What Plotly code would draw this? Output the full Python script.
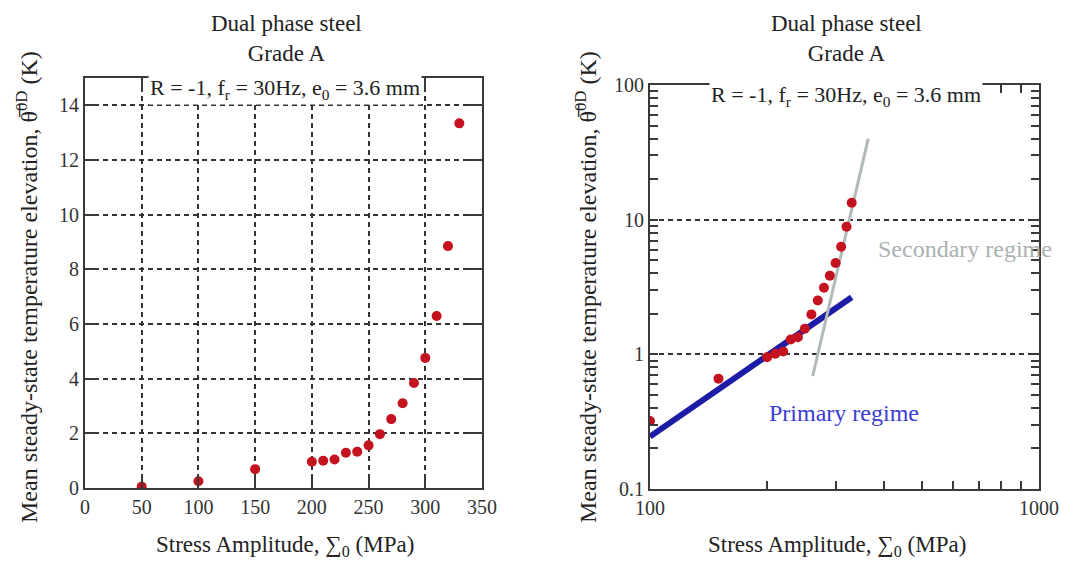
import plotly.graph_objects as go

# ---- data ----
stress_lin = [50, 100, 150, 200, 210, 220, 230, 240, 250, 260, 270, 280, 290, 300, 310, 320, 330]
temp_lin = [0.05, 0.25, 0.69, 0.96, 1.0, 1.04, 1.29, 1.33, 1.56, 1.97, 2.52, 3.1, 3.84, 4.76, 6.29, 8.85, 13.34]

stress_log = [100, 150, 200, 210, 220, 230, 240, 250, 260, 270, 280, 290, 300, 310, 320, 330]
temp_log = [0.32, 0.66, 0.95, 1.01, 1.05, 1.29, 1.34, 1.55, 1.98, 2.51, 3.12, 3.84, 4.76, 6.29, 8.85, 13.34]

primary_x = [100, 330]
primary_y = [0.245, 2.65]
secondary_x = [262, 364]
secondary_y = [0.69, 40]

x_ticks_lin = [0, 50, 100, 150, 200, 250, 300, 350]
y_ticks_lin = [0, 2, 4, 6, 8, 10, 12, 14]
x_ticks_log = [100, 1000]
y_ticks_log = [0.1, 1, 10, 100]

title_text = "Dual phase steel<br>Grade A"
cond_text = "R = -1, f<sub>r</sub> = 30Hz, e<sub>0</sub> = 3.6 mm"
xtitle = "Stress Amplitude, ∑<sub>0</sub> (MPa)"
ytitle = "Mean steady-state temperature elevation, θ\u0305<sup>0D</sup> (K)"

W, H = 1086, 562
FONT = "Liberation Serif"
AX = "#3a3a3a"
RED = "#c4121e"

def px(x):
    return x / W

def py(y):
    return 1 - y / H

fig = go.Figure()

fig.add_trace(go.Scatter(x=stress_lin, y=temp_lin, mode="markers",
                         marker=dict(color=RED, size=10), xaxis="x", yaxis="y",
                         showlegend=False))

fig.add_trace(go.Scatter(x=primary_x, y=primary_y, mode="lines",
                         line=dict(color="#1c1ca6", width=6), xaxis="x2", yaxis="y2",
                         showlegend=False))
fig.add_trace(go.Scatter(x=secondary_x, y=secondary_y, mode="lines",
                         line=dict(color="#b2b9b9", width=3), xaxis="x2", yaxis="y2",
                         showlegend=False))
fig.add_trace(go.Scatter(x=stress_log, y=temp_log, mode="markers",
                         marker=dict(color=RED, size=10), xaxis="x2", yaxis="y2",
                         showlegend=False))

TICKFONT = dict(family=FONT, size=20, color="#333")

common_lin = dict(showline=True, linecolor=AX, linewidth=2, mirror="allticks",
                  ticks="inside", ticklen=14, tickwidth=2, tickcolor=AX,
                  showgrid=True, gridcolor="#333333", gridwidth=1.5, griddash="5px,4px",
                  zeroline=False, automargin=False, tickfont=TICKFONT)

fig.update_layout(
    width=W, height=H,
    margin=dict(l=0, r=0, t=0, b=0),
    plot_bgcolor="white", paper_bgcolor="white",
    font=dict(family=FONT, color="#222"),
    xaxis=dict(domain=[px(85), px(482)], range=[0, 350], tickvals=x_ticks_lin,
               anchor="y", **common_lin),
    yaxis=dict(domain=[py(488), py(78)], range=[0, 15], tickvals=y_ticks_lin,
               anchor="x", **common_lin),
    xaxis2=dict(domain=[px(650), px(1039)], type="log", range=[2, 3],
                tickvals=x_ticks_log, ticktext=["100", "1000"], anchor="y2",
                showline=True, linecolor=AX, linewidth=2, mirror="allticks",
                ticks="inside", ticklen=8, tickwidth=1.5, tickcolor=AX,
                minor=dict(ticks="inside", ticklen=8, tickwidth=1.5, tickcolor=AX,
                           tickvals=[200, 300, 400, 500, 600, 700, 800, 900], showgrid=False),
                showgrid=False, zeroline=False, automargin=False,
                tickfont=TICKFONT),
    yaxis2=dict(domain=[py(489), py(85)], type="log", range=[-1, 2],
                tickvals=y_ticks_log, ticktext=["0.1", "1", "10", "100"], anchor="x2",
                showline=True, linecolor=AX, linewidth=2, mirror="allticks",
                ticks="inside", ticklen=8, tickwidth=1.5, tickcolor=AX,
                minor=dict(ticks="inside", ticklen=8, tickwidth=1.5, tickcolor=AX,
                           tickvals=[0.2, 0.3, 0.4, 0.5, 0.6, 0.7, 0.8, 0.9,
                                     2, 3, 4, 5, 6, 7, 8, 9,
                                     20, 30, 40, 50, 60, 70, 80, 90], showgrid=False),
                showgrid=True, gridcolor="#333333", gridwidth=1.5, griddash="5px,4px",
                zeroline=False, automargin=False,
                tickfont=TICKFONT),
)

ann = []
# titles
for cx in (286, 846):
    ann.append(dict(x=px(cx), y=py(39), xref="paper", yref="paper", text=title_text,
                    showarrow=False, font=dict(family=FONT, size=23, color="#222"),
                    xanchor="center", yanchor="middle"))
# condition text over the frame top
ann.append(dict(x=px(285), y=py(73), xref="paper", yref="paper", text=cond_text,
                showarrow=False, font=dict(family=FONT, size=22, color="#222"),
                xanchor="center", yanchor="top", bgcolor="white", borderpad=1))
ann.append(dict(x=px(846), y=py(80), xref="paper", yref="paper", text=cond_text,
                showarrow=False, font=dict(family=FONT, size=22, color="#222"),
                xanchor="center", yanchor="top", bgcolor="white", borderpad=1))
# x titles
for cx in (285, 837):
    ann.append(dict(x=px(cx), y=py(546), xref="paper", yref="paper", text=xtitle,
                    showarrow=False, font=dict(family=FONT, size=23, color="#222"),
                    xanchor="center", yanchor="middle"))
# y titles
for cx in (27, 586):
    ann.append(dict(x=px(cx), y=py(287), xref="paper", yref="paper", text=ytitle,
                    showarrow=False, textangle=-90,
                    font=dict(family=FONT, size=24, color="#222"),
                    xanchor="center", yanchor="middle"))
# regime labels
ann.append(dict(x=px(965), y=py(249), xref="paper", yref="paper", text="Secondary regime",
                showarrow=False, font=dict(family=FONT, size=24, color="#a9b1b1"),
                xanchor="center", yanchor="middle"))
ann.append(dict(x=px(844), y=py(413), xref="paper", yref="paper", text="Primary regime",
                showarrow=False, font=dict(family=FONT, size=24, color="#3b3bd6"),
                xanchor="center", yanchor="middle"))

fig.update_layout(annotations=ann)

fig.write_html("out.html")
